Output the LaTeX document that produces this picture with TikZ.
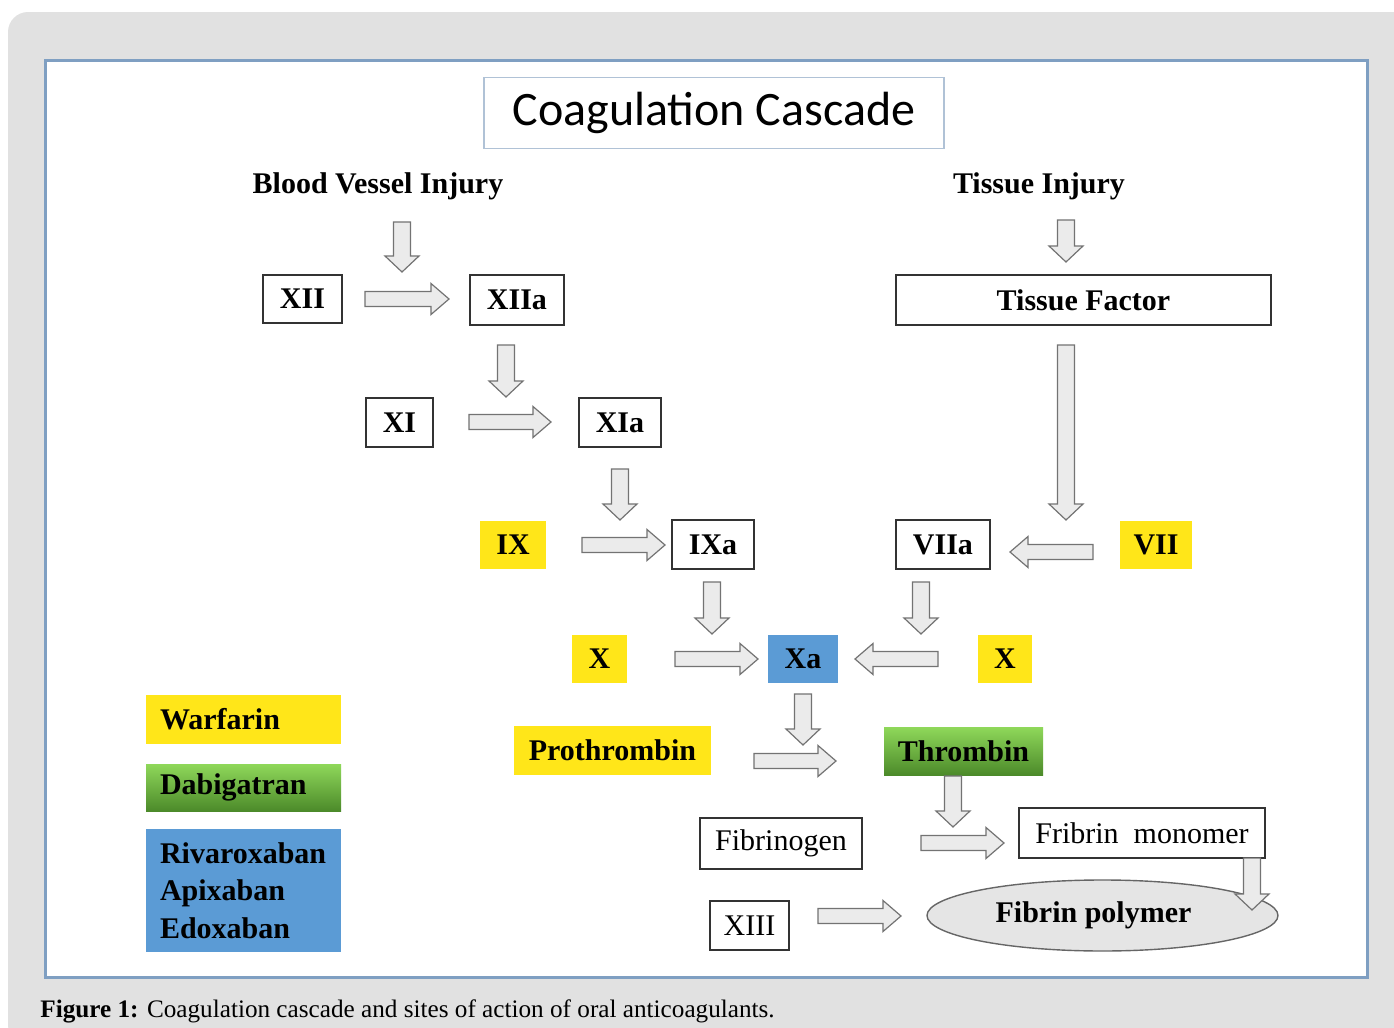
\documentclass[tikz,border=0pt]{standalone}
\usepackage{fontspec}
\setmainfont{Liberation Serif}
\newfontfamily\titlefont{Carlito}
\usetikzlibrary{shapes.geometric,calc}

\definecolor{bggray}{HTML}{E1E1E1}
\definecolor{frameblue}{HTML}{7F9FC2}
\definecolor{titleline}{HTML}{B0C2D6}
\definecolor{warfyellow}{HTML}{FFE619}
\definecolor{xablue}{HTML}{5B9BD5}
\definecolor{thrlight}{HTML}{8FD85A}
\definecolor{thrdark}{HTML}{4C8A2A}

% block arrows: tail -> head
\newcommand{\blockdown}[2]{%
  \draw[blockarr] let \p1=(#1), \p2=(#2) in
    (\x1-4.25pt,\y1) -- (\x1+4.25pt,\y1) -- (\x1+4.25pt,\y2+8pt) -- (\x1+8.5pt,\y2+8pt)
    -- (\x1,\y2) -- (\x1-8.5pt,\y2+8pt) -- (\x1-4.25pt,\y2+8pt) -- cycle;}
\newcommand{\blockright}[2]{%
  \draw[blockarr] let \p1=(#1), \p2=(#2) in
    (\x1,\y1+3.75pt) -- (\x2-9pt,\y1+3.75pt) -- (\x2-9pt,\y1+7.75pt) -- (\x2,\y1)
    -- (\x2-9pt,\y1-7.75pt) -- (\x2-9pt,\y1-3.75pt) -- (\x1,\y1-3.75pt) -- cycle;}
\newcommand{\blockleft}[2]{%
  \draw[blockarr] let \p1=(#1), \p2=(#2) in
    (\x1,\y1+3.75pt) -- (\x2+9pt,\y1+3.75pt) -- (\x2+9pt,\y1+7.75pt) -- (\x2,\y1)
    -- (\x2+9pt,\y1-7.75pt) -- (\x2+9pt,\y1-3.75pt) -- (\x1,\y1-3.75pt) -- cycle;}

\begin{document}
\begin{tikzpicture}[x=0.5pt,y=-0.5pt]

\tikzset{factor/.style = {draw=black!80, line width=0.7pt, fill=white, inner sep=0pt,
  font=\bfseries\fontsize{15}{17}\selectfont}}
\tikzset{plainfactor/.style = {factor, font=\fontsize{15}{17}\selectfont}}
\tikzset{warf/.style = {factor, draw=none, fill=warfyellow}}
\tikzset{xa/.style = {factor, draw=none, fill=xablue}}
\tikzset{dabi/.style = {factor, draw=none, top color=thrlight, bottom color=thrdark}}
\tikzset{legend/.style = {inner xsep=7pt, inner ysep=0pt, text width=83.5pt, align=left,
  font=\bfseries\fontsize{15}{18.75}\selectfont}}
\tikzset{injury/.style = {font=\bfseries\fontsize{15}{17}\selectfont}}
\tikzset{blockarr/.style = {draw=black!55, fill=black!8, line width=0.6pt, line join=miter}}

\useasboundingbox (0,0) rectangle (1394,1028);
% background and frame
\fill[bggray, rounded corners=10pt] (8,12) rectangle (1420,1045);
\draw[frameblue, line width=1.5pt, fill=white] (45,60) rectangle (1367,977);

% title
\node[draw=titleline, line width=0.6pt, minimum width=230pt, minimum height=35.5pt,
  font=\titlefont\fontsize{24}{28}\selectfont] (title) at (714,113) {Coagulation Cascade};

% starting points
\node[injury] (bvi) at (378,186) {Blood Vessel Injury};
\node[injury] (ti) at (1039,186) {Tissue Injury};

% intrinsic pathway
\node[factor, minimum width=39.5pt, minimum height=24pt] (XII) at (302.5,299) {XII};
\node[factor, minimum width=47pt, minimum height=25pt] (XIIa) at (517,300) {XIIa};
\node[factor, minimum width=33.5pt, minimum height=24.5pt] (XI) at (399.5,422.5) {XI};
\node[factor, minimum width=41pt, minimum height=24.5pt] (XIa) at (620,422.5) {XIa};
\node[warf, minimum width=33pt, minimum height=24pt] (IX) at (513,545) {IX};
\node[factor, minimum width=41pt, minimum height=24.5pt] (IXa) at (713,544.5) {IXa};

% extrinsic pathway
\node[factor, minimum width=187.5pt, minimum height=25pt] (tf) at (1083.5,300) {Tissue Factor};
\node[factor, minimum width=47pt, minimum height=24.5pt] (VIIa) at (943,544.5) {VIIa};
\node[warf, minimum width=36pt, minimum height=24pt] (VII) at (1156,545) {VII};

% common pathway
\node[warf, minimum width=27.5pt, minimum height=24pt] (Xl) at (599.5,659) {X};
\node[xa, minimum width=35pt, minimum height=24pt] (Xa) at (803,659) {Xa};
\node[warf, minimum width=27pt, minimum height=24pt] (Xr) at (1005,659) {X};
\node[warf, minimum width=98.5pt, minimum height=24.5pt] (prot) at (612.5,750.5) {Prothrombin};
\node[dabi, minimum width=79.5pt, minimum height=24pt] (thr) at (963.5,751) {Thrombin};
\node[plainfactor, minimum width=81pt, minimum height=25.5pt] (fbg) at (781,843.5) {Fibrinogen};
\node[plainfactor, minimum width=123pt, minimum height=25pt] (mono) at (1142,833) {Fribrin\ \ monomer};
\node[plainfactor, minimum width=39.5pt, minimum height=24.5pt] (XIII) at (749.5,925.5) {XIII};
\node[ellipse, draw=black!60, line width=0.7pt, fill=black!10, minimum width=175.5pt,
  minimum height=35.5pt, inner sep=0pt, font=\bfseries\fontsize{15}{17}\selectfont]
  (poly) at (1102.5,915.5) {Fibrin polymer\hspace*{9pt}};

% legend
\node[legend, fill=warfyellow, minimum height=24.5pt] (lwar) at (243.5,719.5) {Warfarin};
\node[legend, top color=thrlight, bottom color=thrdark, minimum height=23.5pt] (ldab) at (243.5,787.5) {Dabigatran};
\node[legend, fill=xablue, minimum height=61.5pt] (lxa) at (243.5,890.5) {Rivaroxaban\\Apixaban\\Edoxaban};

% arrow ends
\foreach \n/\px/\py in {v1t/402/222, v1h/402/272, v2t/506/345, v2h/506/397,
    v3t/620/469, v3h/620/520, v4t/1066/220, v4h/1066/262, v5t/1066/345, v5h/1066/520,
    v6t/712/582, v6h/712/634, v7t/921/582, v7h/921/634, v8t/803/694, v8h/803/745,
    v9t/953/776, v9h/953/827, v10t/1252/858, v10h/1252/910,
    r1t/365/299, r1h/449/299, r2t/469/422, r2h/551/422, r3t/582/545, r3h/665/545,
    r4t/675/659, r4h/758/659, r5t/754/761, r5h/836/761, r6t/921/843, r6h/1004/843,
    r7t/818/916, r7h/901/916, l1t/1093/552, l1h/1010/552, l2t/938/659, l2h/855/659}
  \coordinate (\n) at (\px,\py);

% arrows
\foreach \a/\b in {v1t/v1h, v2t/v2h, v3t/v3h, v4t/v4h, v5t/v5h, v6t/v6h, v7t/v7h,
    v8t/v8h, v9t/v9h, v10t/v10h}
  \blockdown{\a}{\b};
\foreach \a/\b in {r1t/r1h, r2t/r2h, r3t/r3h, r4t/r4h, r5t/r5h, r6t/r6h, r7t/r7h}
  \blockright{\a}{\b};
\foreach \a/\b in {l1t/l1h, l2t/l2h}
  \blockleft{\a}{\b};

% caption
\node[anchor=west, inner sep=0pt, font=\fontsize{12.6}{14}\selectfont] (cap) at (40,1011)
  {\textbf{Figure 1:} Coagulation cascade and sites of action of oral anticoagulants.};
\end{tikzpicture}
\end{document}
